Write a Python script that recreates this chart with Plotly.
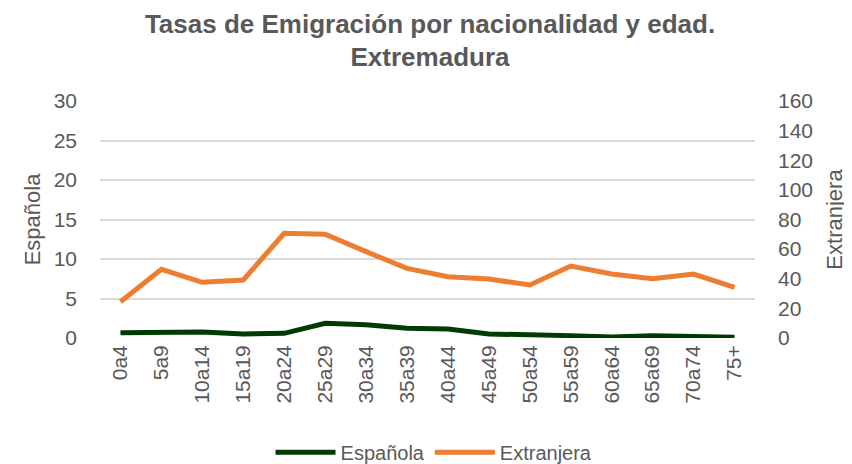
import plotly.graph_objects as go

# age groups
edades = ['0a4', '5a9', '10a14', '15a19', '20a24', '25a29', '30a34', '35a39',
          '40a44', '45a49', '50a54', '55a59', '60a64', '65a69', '70a74', '75+']

# emigration rate, Spanish nationality (left axis)
espanola = [0.67, 0.67, 0.76, 0.51, 0.59, 1.86, 1.69, 1.23,
            1.14, 0.51, 0.47, 0.30, 0.13, 0.30, 0.20, 0.09]

# emigration rate, foreign nationality (right axis)
extranjera = [24.5, 46.4, 37.6, 39.2, 70.7, 70.0, 58.3, 47.0,
              41.4, 39.8, 35.8, 48.6, 43.2, 40.0, 43.2, 34.2]

grey = '#595959'
font_family = 'Liberation Sans, Arial, sans-serif'

fig = go.Figure()
fig.add_trace(go.Scatter(x=edades, y=espanola, name='Española', mode='lines',
                         line=dict(color='#003b04', width=5), yaxis='y'))
fig.add_trace(go.Scatter(x=edades, y=extranjera, name='Extranjera', mode='lines',
                         line=dict(color='#ed7d31', width=5), yaxis='y2'))

# the page body has an 8px margin, so the figure is a bit smaller than the window
fig.update_layout(
    width=844, height=456,
    margin=dict(l=92, r=97, t=93, b=126, autoexpand=False),
    paper_bgcolor='white', plot_bgcolor='white',
    font=dict(family=font_family, color=grey, size=20),
    title=dict(text='<b>Tasas de Emigración por nacionalidad y edad.<br>Extremadura</b>',
               x=0.5, xanchor='center', y=0.946, yanchor='top',
               font=dict(size=26, color=grey)),
    xaxis=dict(type='category', range=[-0.5, 15.5], tickangle=-90,
               showgrid=False, showline=False, ticks='', zeroline=False,
               tickfont=dict(size=21), ticklabelstandoff=2),
    yaxis=dict(range=[0, 30], dtick=5, showgrid=True, gridcolor='#d9d9d9',
               gridwidth=1.5, zeroline=False, showline=False,
               title=dict(text='Española', font=dict(size=22), standoff=6),
               tickfont=dict(size=21), ticklabelstandoff=22),
    yaxis2=dict(range=[0, 160], dtick=20, overlaying='y', side='right',
                showgrid=False, zeroline=False, showline=False,
                title=dict(text='Extranjera', font=dict(size=22), standoff=14),
                tickfont=dict(size=21), ticklabelstandoff=22),
    legend=dict(orientation='h', x=0.51, xanchor='center', y=-0.40, yanchor='top',
                font=dict(size=20), itemwidth=60, tracegroupgap=0),
    showlegend=True,
)

fig.write_html('out.html')
